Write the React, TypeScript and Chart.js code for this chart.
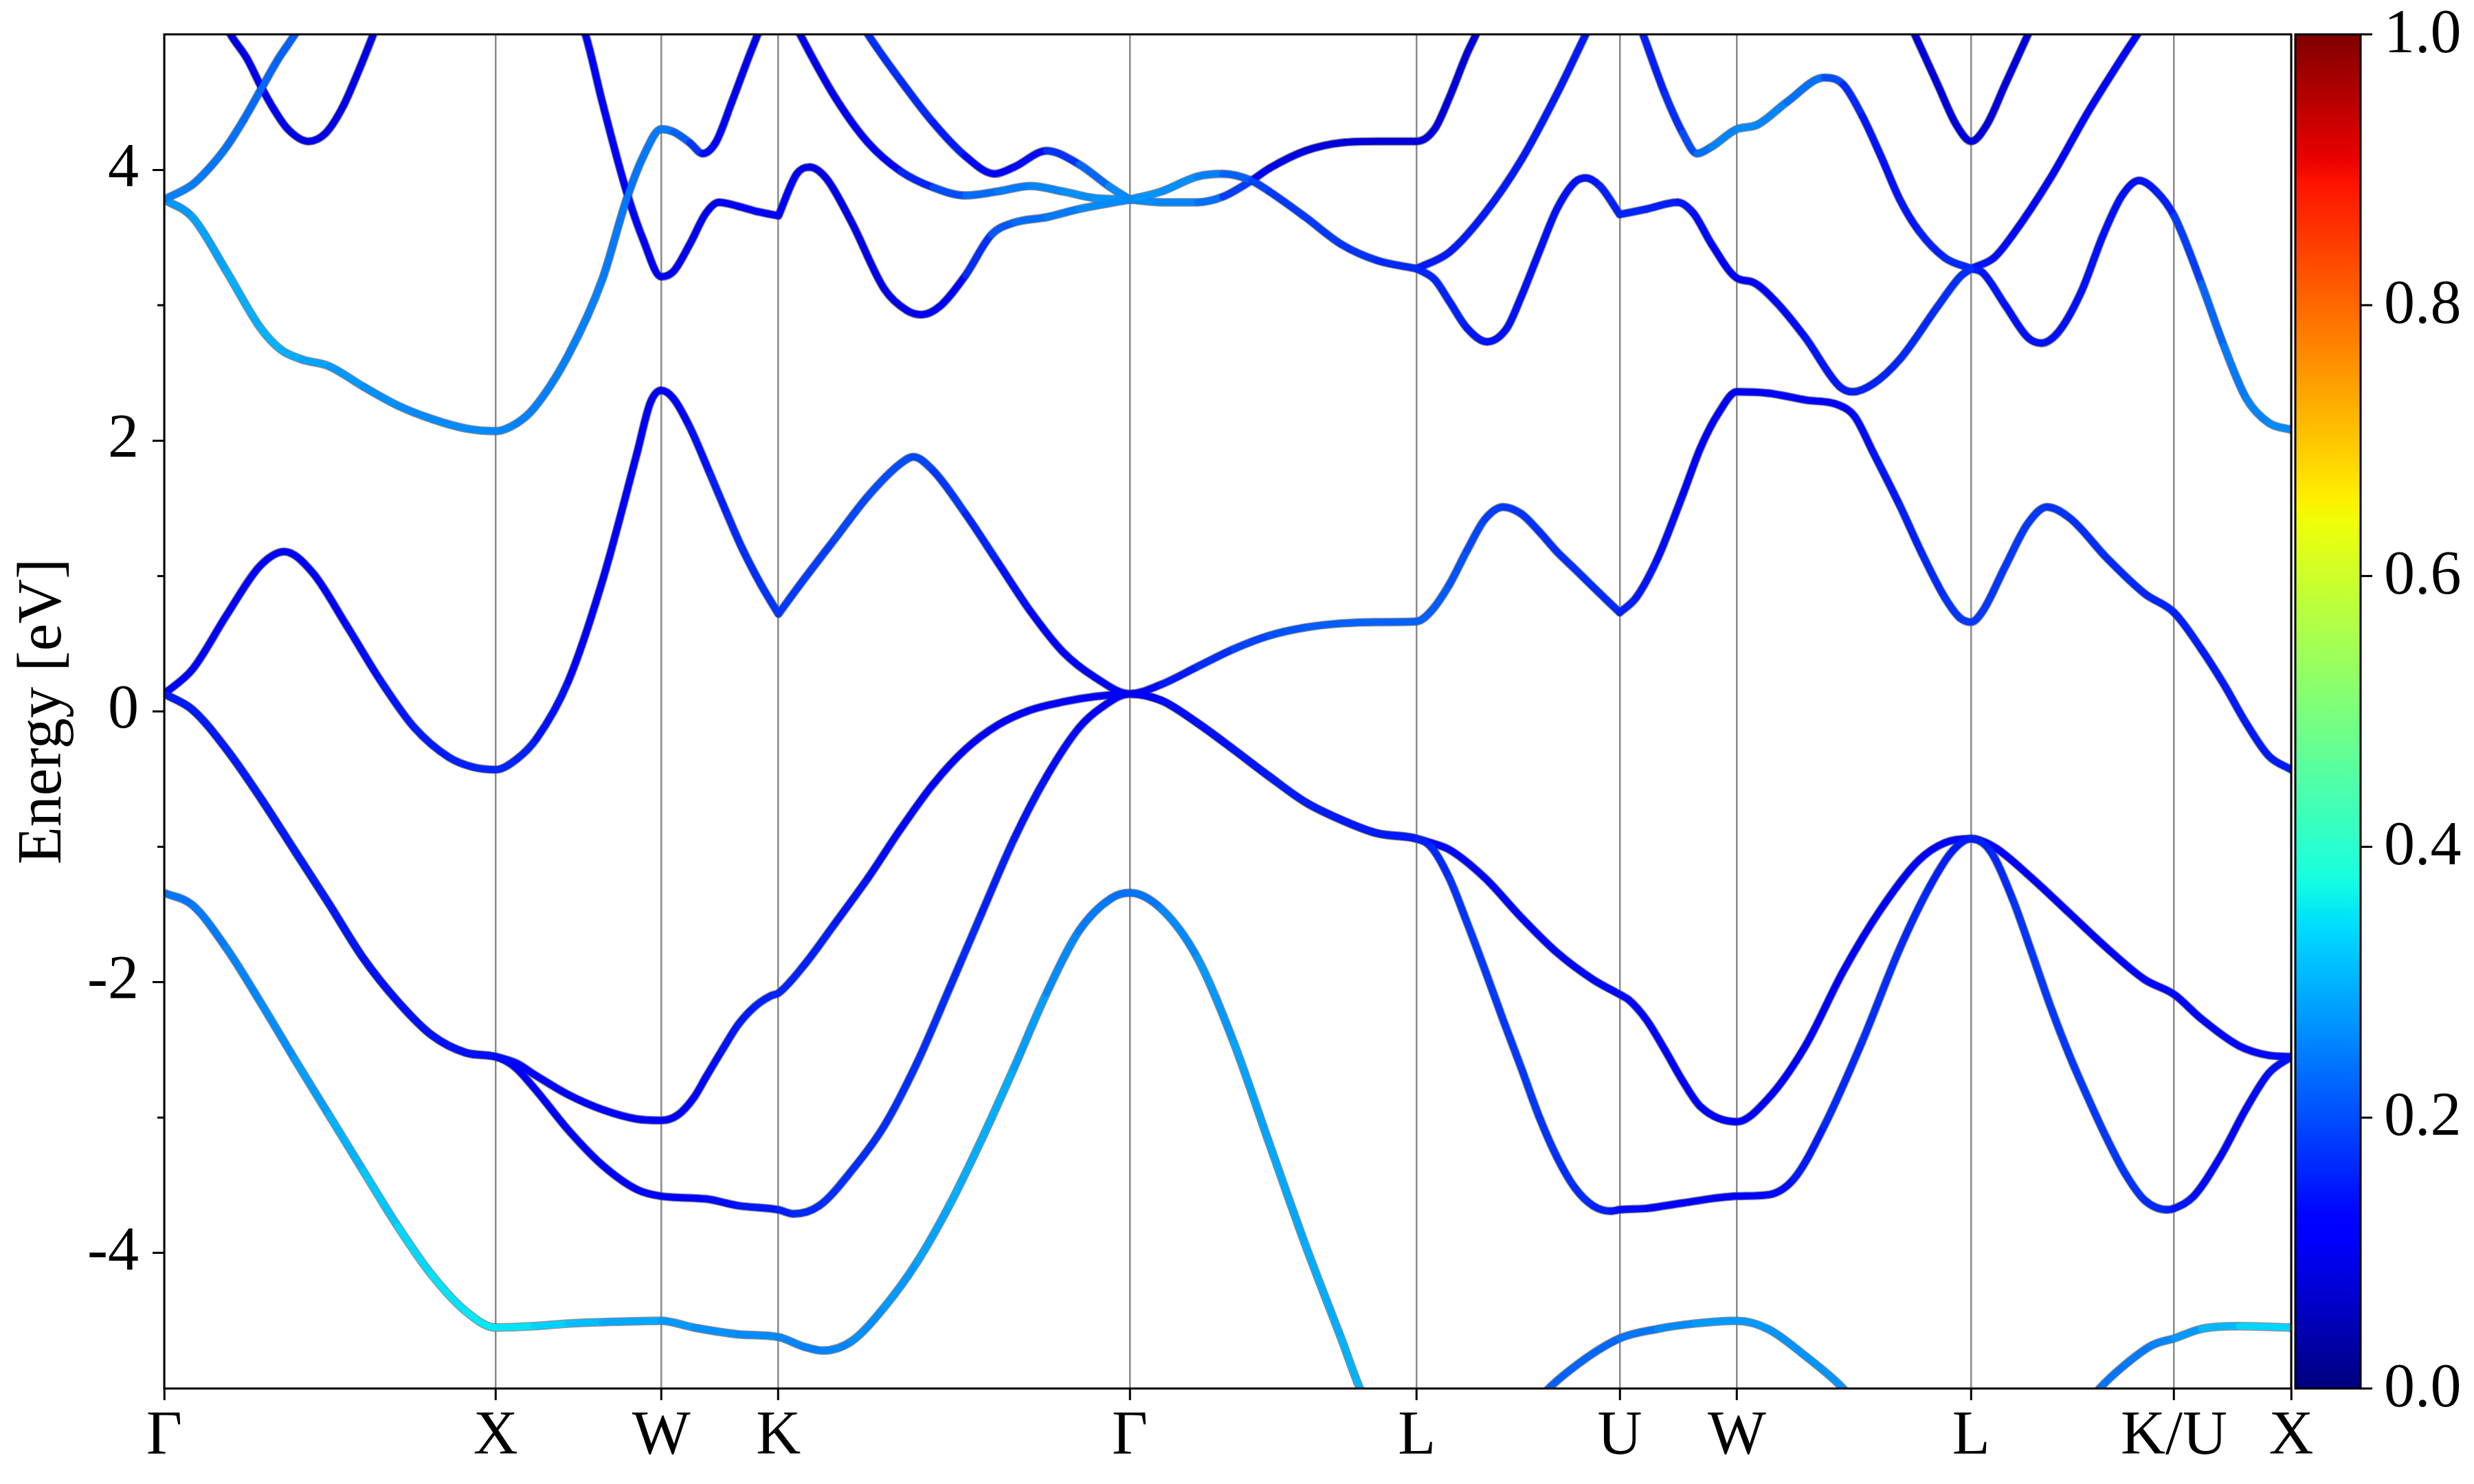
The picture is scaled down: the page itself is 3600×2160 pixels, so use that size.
import React, { useEffect, useRef } from 'react';
import { Chart, registerables } from 'chart.js';
Chart.register(...registerables);

type P = [number, number, number] | null;

// high-symmetry path (cumulative k-distance) and labels
const kTicks = [0, 1, 1.5, 1.85355, 2.91421, 3.78024, 4.39261, 4.74616, 5.45327, 6.06564, 6.41919];
const kLabels = ['Γ', 'X', 'W', 'K', 'Γ', 'L', 'U', 'W', 'L', 'K/U', 'X'];
const energyTicks = [-4, -2, 0, 2, 4];
const energyLabels = ['-4', '-2', '0', '2', '4'];
const energyMinorTicks = [-3, -1, 1, 3];
const cbarTicks = [0, 0.2, 0.4, 0.6, 0.8, 1.0];
const cbarLabels = ['0.0', '0.2', '0.4', '0.6', '0.8', '1.0'];

// bands: [k, energy (eV), weight]
const band1: P[] = [
  [0, -1.34, .24], [0.085, -1.43, .24], [0.188, -1.75, .25], [0.291, -2.15, .26], [0.394, -2.57, .27], [0.497, -2.98, .29], [0.6, -3.39, .31], [0.704, -3.80, .33], [0.807, -4.16, .345], [0.91, -4.43, .35], [1, -4.55, .355],
  [1.116, -4.54, .34], [1.219, -4.52, .32], [1.322, -4.51, .30], [1.5, -4.50, .28],
  [1.599, -4.55, .27], [1.733, -4.60, .26], [1.8536, -4.62, .26],
  [1.929, -4.69, .25], [1.987, -4.72, .25], [2.075, -4.65, .26], [2.173, -4.40, .27], [2.271, -4.07, .28], [2.369, -3.65, .29], [2.467, -3.16, .30], [2.565, -2.63, .29], [2.663, -2.08, .27], [2.761, -1.62, .25], [2.858, -1.38, .24], [2.9142, -1.34, .23],
  [3.01, -1.46, .25], [3.118, -1.82, .27], [3.227, -2.44, .28], [3.335, -3.19, .29], [3.444, -3.94, .29], [3.552, -4.63, .30], [3.617, -5.05, .30], [3.64, -5.15, .30],
  null,
  [4.13, -5.15, .22], [4.159, -5.05, .22], [4.25, -4.85, .22], [4.3926, -4.63, .23], [4.507, -4.56, .25], [4.62, -4.52, .27], [4.7462, -4.50, .28], [4.84, -4.56, .27], [4.953, -4.76, .27], [5.067, -5.0, .27], [5.1, -5.1, .27],
  null,
  [5.81, -5.1, .24], [5.841, -5.0, .24], [5.92, -4.82, .24], [6.0, -4.68, .25], [6.0657, -4.63, .26], [6.148, -4.56, .29], [6.262, -4.54, .32], [6.4193, -4.55, .35],
];

const band2: P[] = [
  [0, 0.13, .15], [0.085, 0.013, .15], [0.188, -0.28, .15], [0.291, -0.64, .15], [0.394, -1.03, .15], [0.497, -1.42, .15], [0.6, -1.82, .14], [0.704, -2.14, .14], [0.807, -2.39, .14], [0.91, -2.52, .14], [1, -2.55, .14],
  [1.055, -2.62, .13], [1.116, -2.78, .12], [1.219, -3.09, .12], [1.322, -3.35, .12], [1.426, -3.53, .12], [1.5, -3.58, .12],
  [1.635, -3.60, .13], [1.733, -3.65, .14], [1.8536, -3.68, .15],
  [1.899, -3.71, .16], [1.977, -3.65, .17], [2.075, -3.39, .17], [2.173, -3.06, .17], [2.271, -2.60, .17], [2.369, -2.05, .17], [2.467, -1.49, .16], [2.565, -0.94, .15], [2.663, -0.48, .14], [2.761, -0.12, .13], [2.829, 0.03, .12], [2.9142, 0.13, .12],
  [3.01, 0.08, .13], [3.118, -0.085, .14], [3.227, -0.28, .14], [3.335, -0.48, .15], [3.444, -0.67, .15], [3.552, -0.80, .15], [3.661, -0.90, .15], [3.7802, -0.94, .15],
  [3.823, -1.0, .16], [3.878, -1.23, .17], [3.932, -1.56, .18], [3.986, -1.91, .18], [4.041, -2.28, .18], [4.095, -2.63, .18], [4.149, -2.99, .18], [4.203, -3.29, .17], [4.258, -3.52, .17], [4.312, -3.65, .16], [4.366, -3.69, .15], [4.3926, -3.68, .14],
  [4.474, -3.67, .13], [4.583, -3.63, .12], [4.7462, -3.58, .12],
  [4.84, -3.57, .13], [4.919, -3.45, .14], [5.01, -3.06, .16], [5.124, -2.44, .17], [5.238, -1.75, .17], [5.329, -1.29, .16], [5.397, -1.03, .15], [5.4533, -0.94, .15],
  [5.511, -1.03, .16], [5.579, -1.39, .17], [5.636, -1.78, .18], [5.693, -2.18, .18], [5.75, -2.54, .18], [5.807, -2.86, .18], [5.864, -3.16, .18], [5.92, -3.42, .18], [5.977, -3.61, .17], [6.046, -3.68, .16], [6.0657, -3.67, .15],
  [6.125, -3.58, .14], [6.205, -3.29, .13], [6.284, -2.93, .13], [6.352, -2.67, .14], [6.4193, -2.55, .14],
];

const band3: P[] = [
  [0, 0.13, .15], [0.085, 0.013, .15], [0.188, -0.28, .15], [0.291, -0.64, .15], [0.394, -1.03, .15], [0.497, -1.42, .15], [0.6, -1.82, .14], [0.704, -2.14, .14], [0.807, -2.39, .14], [0.91, -2.52, .14], [1, -2.55, .14],
  [1.065, -2.60, .13], [1.116, -2.68, .12], [1.219, -2.83, .12], [1.322, -2.94, .12], [1.426, -3.01, .12], [1.5, -3.02, .12],
  [1.55, -2.98, .12], [1.599, -2.85, .13], [1.635, -2.70, .13], [1.684, -2.50, .14], [1.733, -2.31, .15], [1.782, -2.18, .15], [1.831, -2.10, .16], [1.8536, -2.08, .16],
  [1.929, -1.88, .16], [2.026, -1.56, .15], [2.124, -1.23, .14], [2.222, -0.87, .13], [2.32, -0.54, .13], [2.418, -0.28, .12], [2.516, -0.10, .12], [2.614, 0.01, .12], [2.712, 0.07, .12], [2.81, 0.11, .12], [2.9142, 0.13, .12],
  [3.01, 0.08, .13], [3.118, -0.085, .14], [3.227, -0.28, .14], [3.335, -0.48, .15], [3.444, -0.67, .15], [3.552, -0.80, .15], [3.661, -0.90, .15], [3.7802, -0.94, .15],
  [3.823, -0.97, .13], [3.878, -1.02, .13], [3.986, -1.23, .13], [4.095, -1.52, .13], [4.203, -1.78, .13], [4.312, -1.98, .13], [4.3926, -2.09, .13],
  [4.42, -2.13, .13], [4.474, -2.28, .13], [4.529, -2.50, .13], [4.583, -2.73, .12], [4.637, -2.92, .12], [4.7462, -3.03, .12],
  [4.84, -2.86, .12], [4.953, -2.47, .12], [5.067, -1.92, .12], [5.181, -1.46, .12], [5.295, -1.10, .12], [5.374, -0.97, .13], [5.4533, -0.94, .13],
  [5.522, -1.0, .12], [5.636, -1.23, .12], [5.75, -1.49, .12], [5.864, -1.75, .12], [5.977, -1.98, .13], [6.0657, -2.09, .13],
  [6.148, -2.27, .13], [6.262, -2.47, .13], [6.352, -2.54, .13], [6.4193, -2.55, .14],
];

const band4: P[] = [
  [0, 0.13, .12], [0.085, 0.31, .12], [0.188, 0.71, .12], [0.291, 1.08, .12], [0.363, 1.18, .12], [0.446, 1.03, .12], [0.549, 0.64, .13], [0.652, 0.23, .14], [0.755, -0.12, .15], [0.86, -0.34, .15], [0.93, -0.41, .16], [1, -0.43, .16],
  [1.065, -0.35, .16], [1.124, -0.2, .15], [1.219, 0.22, .13], [1.322, 0.96, .12], [1.426, 1.9, .11], [1.467, 2.28, .10], [1.5, 2.37, .10],
  [1.537, 2.31, .11], [1.586, 2.1, .13], [1.648, 1.75, .15], [1.7, 1.45, .16], [1.743, 1.21, .17], [1.8, 0.94, .17], [1.8536, 0.72, .18],
  null,
  [1.8536, 0.72, .18], [1.929, 0.97, .18], [2.026, 1.28, .19], [2.124, 1.59, .2], [2.222, 1.83, .2], [2.261, 1.88, .2], [2.32, 1.78, .19], [2.418, 1.46, .17], [2.516, 1.10, .15], [2.614, 0.74, .13], [2.712, 0.44, .12], [2.81, 0.25, .12], [2.9142, 0.13, .12],
  [3.01, 0.2, .14], [3.118, 0.33, .16], [3.227, 0.46, .18], [3.335, 0.56, .2], [3.444, 0.62, .21], [3.552, 0.65, .22], [3.661, 0.66, .22], [3.7802, 0.665, .22],
  [3.823, 0.74, .22], [3.878, 0.935, .21], [3.932, 1.19, .2], [3.986, 1.42, .19], [4.041, 1.51, .18], [4.095, 1.46, .18], [4.149, 1.33, .17], [4.203, 1.18, .17], [4.258, 1.05, .17], [4.312, 0.92, .17], [4.3926, 0.73, .16],
  null,
  [4.3926, 0.73, .16], [4.442, 0.84, .15], [4.507, 1.13, .14], [4.583, 1.6, .13], [4.637, 1.95, .12], [4.69, 2.2, .11], [4.7462, 2.36, .10],
  [4.84, 2.35, .11], [4.953, 2.30, .12], [5.056, 2.26, .12], [5.101, 2.18, .13], [5.158, 1.91, .14], [5.238, 1.52, .15], [5.306, 1.16, .16], [5.374, 0.84, .17], [5.42, 0.69, .18], [5.4533, 0.66, .18],
  [5.488, 0.74, .18], [5.556, 1.07, .18], [5.625, 1.39, .18], [5.682, 1.51, .18], [5.75, 1.43, .17], [5.864, 1.13, .17], [5.977, 0.87, .16], [6.0657, 0.73, .16],
  [6.148, 0.46, .15], [6.216, 0.2, .15], [6.284, -0.09, .15], [6.352, -0.33, .15], [6.4193, -0.43, .15],
];

const upper1: P[] = [[0, 3.78, .25], [0.085, 3.89, .25], [0.135, 4.01, .24], [0.188, 4.17, .24], [0.24, 4.37, .23], [0.291, 4.59, .23], [0.342, 4.81, .22], [0.394, 5.0, .22], [0.43, 5.15, .22]];
const upper2: P[] = [[0.18, 5.1, .09], [0.2, 5.0, .09], [0.25, 4.82, .09], [0.291, 4.62, .1], [0.33, 4.45, .1], [0.373, 4.3, .09], [0.435, 4.21, .09], [0.487, 4.27, .09], [0.538, 4.46, .09], [0.585, 4.72, .09], [0.631, 5.0, .09], [0.65, 5.12, .09]];
const upper3: P[] = [
  [0, 3.78, .27], [0.085, 3.65, .28], [0.188, 3.25, .29], [0.291, 2.83, .30], [0.353, 2.67, .30], [0.415, 2.60, .29], [0.497, 2.55, .28], [0.6, 2.40, .27], [0.704, 2.26, .26], [0.807, 2.16, .26], [0.91, 2.09, .26], [1, 2.07, .26],
  [1.065, 2.13, .25], [1.116, 2.24, .25], [1.219, 2.63, .25], [1.322, 3.19, .25], [1.395, 3.78, .24], [1.446, 4.10, .24], [1.5, 4.30, .25],
  [1.537, 4.28, .24], [1.586, 4.20, .2], [1.625, 4.12, .15], [1.664, 4.20, .12], [1.713, 4.50, .1], [1.762, 4.82, .1], [1.791, 5.0, .1], [1.81, 5.12, .1],
];
const upper4: P[] = [
  [1.25, 5.12, .12], [1.271, 5.0, .12], [1.322, 4.50, .12], [1.395, 3.84, .13], [1.446, 3.48, .11], [1.5, 3.21, .10],
  [1.537, 3.25, .10], [1.586, 3.45, .10], [1.635, 3.68, .10], [1.674, 3.76, .10], [1.733, 3.73, .11], [1.792, 3.69, .11], [1.8536, 3.66, .12],
  null,
  [1.8536, 3.66, .12], [1.909, 3.97, .1], [1.948, 4.02, .09], [1.997, 3.94, .09], [2.075, 3.61, .09], [2.173, 3.12, .09], [2.242, 2.96, .09], [2.286, 2.93, .1], [2.34, 2.99, .11], [2.418, 3.22, .14], [2.496, 3.52, .2], [2.565, 3.61, .22], [2.663, 3.65, .24], [2.761, 3.71, .25], [2.9142, 3.78, .27],
];
const upper5: P[] = [[1.895, 5.12, .1], [1.919, 5.0, .1], [2.026, 4.53, .1], [2.124, 4.2, .11], [2.222, 3.99, .14], [2.32, 3.87, .18], [2.418, 3.81, .22], [2.516, 3.84, .24], [2.614, 3.88, .25], [2.712, 3.84, .26], [2.81, 3.79, .27], [2.9142, 3.78, .27]];
const upper6: P[] = [[2.1, 5.1, .17], [2.124, 5.0, .17], [2.222, 4.66, .17], [2.32, 4.35, .16], [2.418, 4.1, .14], [2.506, 3.97, .12], [2.565, 4.02, .12], [2.663, 4.14, .15], [2.761, 4.04, .2], [2.85, 3.88, .25], [2.9142, 3.78, .27]];
const gammaL1: P[] = [[2.9142, 3.78, .27], [3.01, 3.84, .27], [3.118, 3.95, .26], [3.194, 3.97, .24], [3.281, 3.92, .2], [3.335, 3.84, .18], [3.444, 3.65, .18], [3.552, 3.45, .18], [3.661, 3.33, .17], [3.7802, 3.27, .16]];
const gammaL2: P[] = [[2.9142, 3.78, .26], [3.01, 3.76, .26], [3.118, 3.76, .25], [3.194, 3.80, .22], [3.281, 3.92, .15], [3.335, 4.01, .1], [3.444, 4.14, .08], [3.552, 4.2, .08], [3.661, 4.21, .08], [3.7802, 4.21, .08], [3.834, 4.30, .08], [3.878, 4.53, .08], [3.932, 4.86, .08], [3.959, 5.0, .08], [3.98, 5.12, .08]];
const lUpper: P[] = [[3.7802, 3.27, .15], [3.878, 3.39, .15], [3.986, 3.68, .15], [4.095, 4.07, .15], [4.203, 4.56, .15], [4.29, 5.0, .15], [4.32, 5.15, .15]];
const lLower: P[] = [
  [3.7802, 3.27, .16], [3.834, 3.19, .16], [3.878, 3.03, .16], [3.932, 2.83, .15], [3.992, 2.73, .14], [4.052, 2.83, .14], [4.095, 3.06, .14], [4.149, 3.39, .14], [4.203, 3.71, .14], [4.258, 3.91, .14], [4.29, 3.94, .14], [4.333, 3.88, .15], [4.3926, 3.67, .16],
  null,
  [4.3926, 3.67, .16], [4.474, 3.71, .16], [4.567, 3.76, .15], [4.615, 3.68, .14], [4.67, 3.45, .13], [4.7462, 3.20, .12],
  [4.794, 3.17, .12], [4.862, 3.03, .13], [4.953, 2.76, .14], [5.056, 2.40, .15], [5.096, 2.36, .15], [5.158, 2.42, .16], [5.238, 2.60, .16], [5.352, 2.99, .17], [5.42, 3.21, .17], [5.4533, 3.27, .17],
];
const uwTop: P[] = [[4.44, 5.15, .15], [4.463, 5.0, .15], [4.529, 4.56, .16], [4.583, 4.27, .18], [4.626, 4.12, .22], [4.67, 4.17, .25], [4.7462, 4.30, .26], [4.806, 4.33, .26], [4.897, 4.50, .25], [5.01, 4.68, .22], [5.067, 4.63, .18], [5.124, 4.40, .15], [5.181, 4.10, .14], [5.238, 3.78, .14], [5.295, 3.55, .15], [5.374, 3.35, .16], [5.4533, 3.27, .17]];
const l2Top: P[] = [[5.26, 5.12, .08], [5.283, 5.0, .08], [5.352, 4.63, .08], [5.409, 4.33, .08], [5.4533, 4.21, .08], [5.5, 4.33, .08], [5.556, 4.63, .08], [5.625, 5.0, .08], [5.647, 5.12, .08]];
const l2Upper: P[] = [[5.4533, 3.27, .15], [5.522, 3.35, .14], [5.579, 3.52, .13], [5.693, 3.94, .13], [5.807, 4.43, .13], [5.92, 4.87, .13], [5.955, 5.0, .13], [5.98, 5.1, .13]];
const l2Lower: P[] = [[5.4533, 3.27, .16], [5.488, 3.24, .15], [5.556, 3.0, .14], [5.625, 2.76, .14], [5.665, 2.72, .14], [5.716, 2.80, .14], [5.784, 3.09, .14], [5.852, 3.52, .14], [5.909, 3.81, .14], [5.96, 3.92, .14], [6.012, 3.84, .15], [6.0657, 3.66, .16], [6.148, 3.16, .21], [6.216, 2.70, .24], [6.284, 2.31, .25], [6.352, 2.13, .26], [6.4193, 2.08, .26]];

const bands: P[][] = [band1, band2, band3, band4, upper1, upper2, upper3, upper4, upper5, upper6, gammaL1, gammaL2, lUpper, lLower, uwTop, l2Top, l2Upper, l2Lower];

const FONT = "'Liberation Serif', 'Times New Roman', serif";

function interp(stops: number[][], v: number) {
  for (let i = 1; i < stops.length; i++) {
    if (v <= stops[i][0]) {
      const [x0, y0] = stops[i - 1];
      const [x1, y1] = stops[i];
      return y0 + ((v - x0) / (x1 - x0 || 1)) * (y1 - y0);
    }
  }
  return stops[stops.length - 1][1];
}
function jet(v: number) {
  const t = Math.max(0, Math.min(1, v));
  const r = interp([[0, 0], [0.35, 0], [0.66, 1], [0.89, 1], [1, 0.5]], t);
  const g = interp([[0, 0], [0.125, 0], [0.375, 1], [0.64, 1], [0.91, 0], [1, 0]], t);
  const b = interp([[0, 0.5], [0.11, 1], [0.34, 1], [0.65, 0], [1, 0]], t);
  return `rgb(${Math.round(r * 255)},${Math.round(g * 255)},${Math.round(b * 255)})`;
}

function toData(b: P[]) {
  let lastX = 0;
  return b.map((p) => {
    if (p) { lastX = p[0]; return { x: p[0], y: p[1] }; }
    return { x: lastX, y: null as any };
  });
}

const decor = {
  id: 'decor',
  afterDraw(chart: any) {
    const { ctx, chartArea: a, scales } = chart;
    const ys = scales.y;
    ctx.save();
    ctx.strokeStyle = '#000';
    ctx.lineWidth = 3;
    ctx.strokeRect(a.left, a.top, a.right - a.left, a.bottom - a.top);
    ctx.beginPath();
    for (const v of energyMinorTicks) {
      const py = ys.getPixelForValue(v);
      ctx.moveTo(a.left - 10, py);
      ctx.lineTo(a.left, py);
    }
    ctx.stroke();
    // colorbar
    const cl = a.right + 6, cr = a.right + 101;
    const grad = ctx.createLinearGradient(0, a.bottom, 0, a.top);
    for (let i = 0; i <= 100; i++) grad.addColorStop(i / 100, jet(i / 100));
    ctx.fillStyle = grad;
    ctx.fillRect(cl, a.top, cr - cl, a.bottom - a.top);
    ctx.strokeRect(cl, a.top, cr - cl, a.bottom - a.top);
    ctx.font = `90px ${FONT}`;
    ctx.fillStyle = '#000';
    ctx.textAlign = 'left';
    ctx.textBaseline = 'middle';
    cbarTicks.forEach((v, i) => {
      const py = a.bottom - v * (a.bottom - a.top);
      ctx.beginPath();
      ctx.moveTo(cr, py);
      ctx.lineTo(cr + 17, py);
      ctx.stroke();
      ctx.fillText(cbarLabels[i], cr + 34, py + 2);
    });
    // y title
    ctx.translate(88, (a.top + a.bottom) / 2);
    ctx.rotate(-Math.PI / 2);
    ctx.textAlign = 'center';
    ctx.textBaseline = 'alphabetic';
    ctx.fillText('Energy [eV]', 0, 0);
    ctx.restore();
  },
};

export default function App() {
  const ref = useRef<HTMLCanvasElement>(null);
  useEffect(() => {
    const datasets: any[] = [];
    bands.forEach((b) => {
      const data = toData(b);
      const common = {
        data,
        borderCapStyle: 'round',
        borderJoinStyle: 'round',
        pointRadius: 0,
        cubicInterpolationMode: 'monotone',
        spanGaps: false,
        clip: 0,
      };
      datasets.push({
        ...common,
        order: 0,
        borderWidth: 10,
        borderColor: '#0000ff',
        segment: {
          borderColor: (c: any) => {
            const p0 = b[c.p0DataIndex];
            const p1 = b[c.p1DataIndex];
            if (!p0 || !p1) return undefined;
            return jet((p0[2] + p1[2]) / 2);
          },
        },
      });
      datasets.push({ ...common, order: 1, borderWidth: 12.5, borderColor: 'rgba(95,95,95,0.7)' });
    });
    const chart = new Chart(ref.current as HTMLCanvasElement, {
      type: 'line',
      data: { datasets },
      options: {
        responsive: false,
        animation: false,
        devicePixelRatio: 1,
        events: [],
        layout: { padding: { left: 0, right: 266, top: 50, bottom: 0 } },
        plugins: { legend: { display: false }, tooltip: { enabled: false } },
        elements: { point: { radius: 0 } },
        scales: {
          x: {
            type: 'linear',
            min: 0,
            max: kTicks[kTicks.length - 1],
            afterBuildTicks: (s: any) => { s.ticks = kTicks.map((v) => ({ value: v })); },
            afterFit: (s: any) => { s.height = 139; s.paddingLeft = 0; s.paddingRight = 0; s.paddingTop = 0; s.paddingBottom = 0; },
            ticks: {
              autoSkip: false,
              maxRotation: 0,
              minRotation: 0,
              padding: 0,
              color: '#000',
              font: { family: FONT, size: 90 },
              callback: (_v: any, i: number) => kLabels[i],
            },
            grid: { color: '#8a8a8a', lineWidth: 2.5, drawTicks: true, tickLength: 17, tickColor: '#000', tickWidth: 3 },
            border: { display: false },
          },
          y: {
            type: 'linear',
            min: -5,
            max: 5,
            afterBuildTicks: (s: any) => { s.ticks = energyTicks.map((v) => ({ value: v })); },
            afterFit: (s: any) => { s.width = 239; s.paddingTop = 0; s.paddingBottom = 0; s.paddingLeft = 0; s.paddingRight = 0; },
            ticks: {
              padding: 20,
              color: '#000',
              font: { family: FONT, size: 90 },
              callback: (_v: any, i: number) => energyLabels[i],
            },
            grid: { drawOnChartArea: false, drawTicks: true, tickLength: 17, tickColor: '#000', tickWidth: 3 },
            border: { display: false },
          },
        },
      },
      plugins: [decor],
    } as any);
    return () => chart.destroy();
  }, []);
  return (
    <div style={{ position: 'fixed', left: 0, top: 0, width: 3600, height: 2160, background: '#fff' }}>
      <canvas ref={ref} width={3600} height={2160} style={{ width: 3600, height: 2160, display: 'block' }} />
    </div>
  );
}
